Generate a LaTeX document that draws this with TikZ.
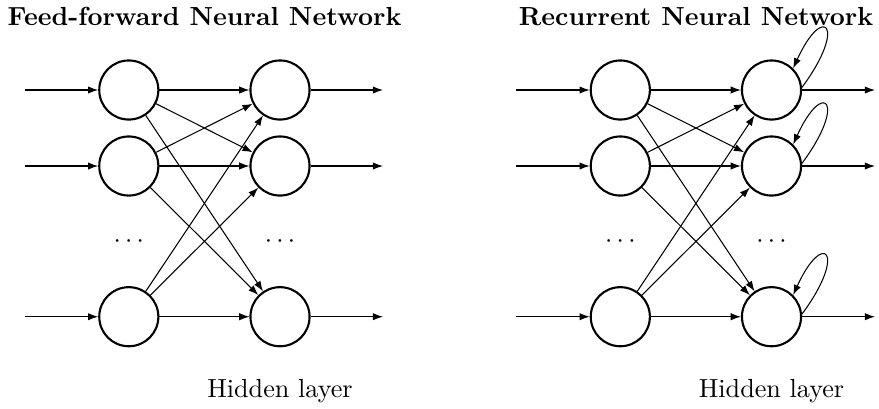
\documentclass[tikz,border=0pt]{standalone}
\usetikzlibrary{arrows.meta}
\begin{document}
\begin{tikzpicture}[x=0.3824pt,y=-0.3824pt,
  neuron/.style={circle,draw,line width=0.8pt,minimum size=22.6pt,inner sep=0pt},
  conn/.style={-{Latex[length=3.9pt,width=2.8pt]},line width=0.4pt},
  heading/.style={font=\bfseries,inner sep=0pt,anchor=base},
  caption/.style={inner sep=0pt,anchor=base},
  selfloop/.style={conn}]
\useasboundingbox (0,0) rectangle (879,408);

% ---------------- Feed-forward network ----------------
\node[heading] (ftitle) at (204.5,25) {Feed-forward Neural Network};

\node[neuron] (fa1) at (128.8,90) {};
\node[neuron] (fa2) at (128.8,166) {};
\node[neuron] (fa3) at (128.8,316.7) {};
\node[neuron] (fb1) at (280,90) {};
\node[neuron] (fb2) at (280,166) {};
\node[neuron] (fb3) at (280,316.7) {};
\node (fdotsa) at (128.8,241.5) {$\cdots$};
\node (fdotsb) at (280,241.5) {$\cdots$};

\coordinate (fin1) at (25,90);
\coordinate (fin2) at (25,166);
\coordinate (fin3) at (25,316.7);
\coordinate (fout1) at (383,90);
\coordinate (fout2) at (383,166);
\coordinate (fout3) at (383,316.7);

\foreach \i in {1,2,3} {
  \draw[conn] (fin\i) -- (fa\i);
  \draw[conn] (fb\i) -- (fout\i);
  \foreach \j in {1,2,3} {
    \draw[conn] (fa\i) -- (fb\j);
  }
}

\node[caption] (fcap) at (280,397.5) {Hidden layer};

% ---------------- Recurrent network ----------------
\node[heading] (rtitle) at (696,25) {Recurrent Neural Network};

\node[neuron] (ra1) at (620.3,90) {};
\node[neuron] (ra2) at (620.3,166) {};
\node[neuron] (ra3) at (620.3,316.7) {};
\node[neuron] (rb1) at (771.5,90) {};
\node[neuron] (rb2) at (771.5,166) {};
\node[neuron] (rb3) at (771.5,316.7) {};
\node (rdotsa) at (620.3,241.5) {$\cdots$};
\node (rdotsb) at (771.5,241.5) {$\cdots$};

\coordinate (rin1) at (516,90);
\coordinate (rin2) at (516,166);
\coordinate (rin3) at (516,316.7);
\coordinate (rout1) at (875,90);
\coordinate (rout2) at (875,166);
\coordinate (rout3) at (875,316.7);

\foreach \i in {1,2,3} {
  \draw[conn] (rin\i) -- (ra\i);
  \draw[conn] (rb\i) -- (rout\i);
  \foreach \j in {1,2,3} {
    \draw[conn] (ra\i) -- (rb\j);
  }
  % recurrent self-connection
  \draw[selfloop] (rb\i.5) .. controls +(46,-62) and +(30,-66) .. (rb\i.45);
}

\node[caption] (rcap) at (771.5,397.5) {Hidden layer};
\end{tikzpicture}
\end{document}
